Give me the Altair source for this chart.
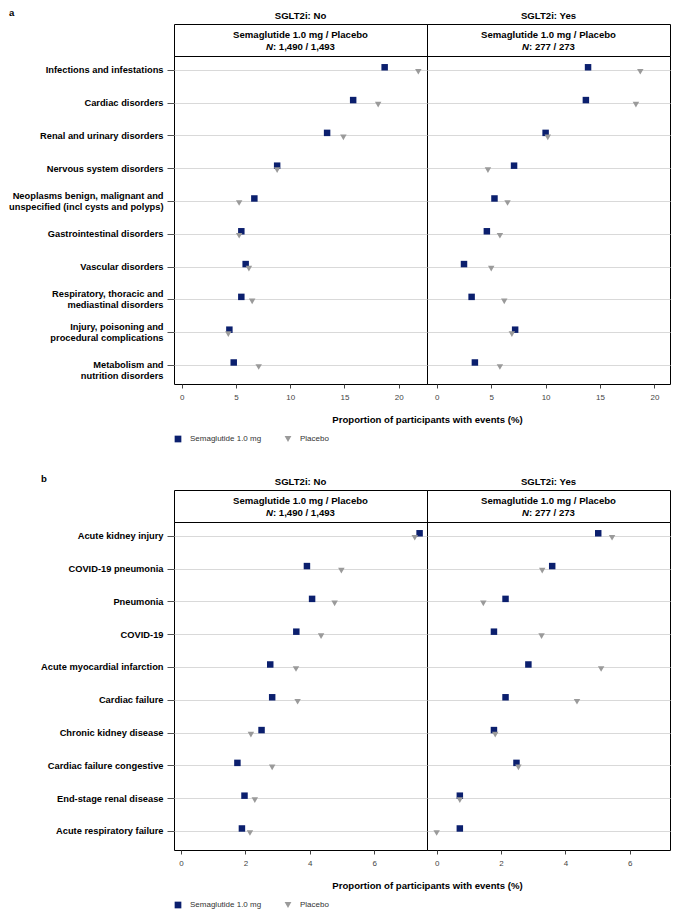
import altair as alt
import pandas as pd

FONT = "Liberation Sans, Arial, sans-serif"
NAVY = "#0b1f6e"
GREY = "#9a9a9a"

# ---------------- data ----------------
treatments = ["Semaglutide 1.0 mg", "Placebo"]
groups = ["SGLT2i: No", "SGLT2i: Yes"]
header_line1 = "Semaglutide 1.0 mg / Placebo"
n_italic = "N"
n_text = [": 1,490 / 1,493", ": 277 / 273"]
x_title = "Proportion of participants with events (%)"
section_letters = ["a", "b"]

soc_labels = [
    "Infections and infestations",
    "Cardiac disorders",
    "Renal and urinary disorders",
    "Nervous system disorders",
    "Neoplasms benign, malignant and|unspecified (incl cysts and polyps)",
    "Gastrointestinal disorders",
    "Vascular disorders",
    "Respiratory, thoracic and|mediastinal disorders",
    "Injury, poisoning and|procedural complications",
    "Metabolism and|nutrition disorders",
]
# labels whose first line sits on the tick (all other wrapped labels are centred)
top_aligned_labels = ["Metabolism and|nutrition disorders"]

soc_no_sema = [18.7, 15.8, 13.4, 8.8, 6.7, 5.5, 5.9, 5.5, 4.4, 4.8]
soc_no_plac = [21.8, 18.1, 14.9, 8.8, 5.3, 5.3, 6.2, 6.5, 4.3, 7.1]
soc_yes_sema = [13.9, 13.7, 10.0, 7.1, 5.3, 4.6, 2.5, 3.2, 7.2, 3.5]
soc_yes_plac = [18.7, 18.3, 10.2, 4.7, 6.5, 5.8, 5.0, 6.2, 6.9, 5.8]

pt_labels = [
    "Acute kidney injury",
    "COVID-19 pneumonia",
    "Pneumonia",
    "COVID-19",
    "Acute myocardial infarction",
    "Cardiac failure",
    "Chronic kidney disease",
    "Cardiac failure congestive",
    "End-stage renal disease",
    "Acute respiratory failure",
]
pt_no_sema = [7.41, 3.91, 4.07, 3.58, 2.77, 2.83, 2.50, 1.75, 1.97, 1.89]
pt_no_plac = [7.26, 4.98, 4.77, 4.35, 3.57, 3.62, 2.17, 2.83, 2.29, 2.14]
pt_yes_sema = [5.02, 3.59, 2.14, 1.78, 2.85, 2.14, 1.78, 2.48, 0.72, 0.72]
pt_yes_plac = [5.45, 3.28, 1.45, 3.26, 5.11, 4.36, 1.82, 2.54, 0.72, 0.00]

top_ticks = [0, 5, 10, 15, 20]
bot_ticks = [0, 2, 4, 6]

# ---------------- layout ----------------
W = [253, 243]
HDR_H = 32
PLOT_H = 328
FS = 9.6
LINE_H = 11
top_domains = [[-0.7, 22.6], [-0.9, 21.43]]
bot_domains = [[-0.22, 7.64], [-0.3, 7.25]]

BW = {":": .333, " ": .278, ",": .278, "/": .278, "N": .722}


def bold_width(s, size):
    return sum(BW.get(c, .556) for c in s) * size


def header(i):
    w = W[i]
    df = pd.DataFrame({"line1": [header_line1], "n": [n_text[i]], "ni": [n_italic]})
    base = alt.Chart(df)
    total = bold_width(n_italic + n_text[i], FS)
    sx = w / 2 - total / 2 + bold_width(n_italic, FS)
    common = dict(font=FONT, fontSize=FS, fontWeight="bold", color="black", baseline="middle")
    t1 = base.mark_text(align="center", **common).encode(
        x=alt.value(w / 2), y=alt.value(10.5), text="line1:N")
    t2 = base.mark_text(align="right", fontStyle="italic", **common).encode(
        x=alt.value(sx), y=alt.value(22.5), text="ni:N")
    t3 = base.mark_text(align="left", **common).encode(
        x=alt.value(sx), y=alt.value(22.5), text="n:N")
    return alt.layer(t1, t2, t3).properties(
        width=w, height=HDR_H,
        title=alt.TitleParams(groups[i], font=FONT, fontSize=FS, fontWeight="bold",
                              color="black", offset=3))


def plot(i, labels, sema, plac, domain, ticks):
    w = W[i]
    n = len(labels)
    df = pd.DataFrame({
        "label": labels * 2,
        "treatment": [treatments[0]] * n + [treatments[1]] * n,
        "value": sema + plac,
    })
    excl = " && ".join("datum.value != '%s'" % s for s in top_aligned_labels)
    centre_test = "indexof(datum.value, '|') >= 0" + (" && " + excl if excl else "")
    if i == 0:
        yaxis = alt.Axis(title=None, labelExpr="split(datum.label, '|')",
                         labelFont=FONT, labelFontSize=9.3, labelFontWeight="bold",
                         labelColor="black", labelLineHeight=LINE_H, labelPadding=4,
                         labelLimit=400, labelOverlap=False,
                         labelOffset={"condition": {"test": centre_test,
                                                    "value": -LINE_H / 2},
                                      "value": 0},
                         tickSize=7, tickColor="#555555", tickWidth=1,
                         domain=False, grid=True, gridColor="#d9d9d9", gridWidth=1)
        xaxis = alt.Axis(values=ticks, title=x_title, labelFont=FONT, labelFontSize=8,
                         labelColor="#444444", labelPadding=5, tickSize=4,
                         tickColor="#444444", domain=False, grid=False,
                         titleFont=FONT, titleFontSize=FS, titleFontWeight="bold",
                         titleColor="black", titleX=w, titleY=35,
                         titleBaseline="middle", titleAlign="center")
    else:
        yaxis = alt.Axis(title=None, labels=False, ticks=False, domain=False,
                         grid=True, gridColor="#d9d9d9", gridWidth=1)
        xaxis = alt.Axis(values=ticks, title=None, labelFont=FONT, labelFontSize=8,
                         labelColor="#444444", labelPadding=5, tickSize=4,
                         tickColor="#444444", domain=False, grid=False)
    legend = alt.Legend(title=None, orient="none", legendX=0,
                        legendY=HDR_H + PLOT_H + 51, direction="horizontal",
                        symbolSize=45, labelFont=FONT, labelFontSize=8,
                        labelColor="#333333", columnPadding=22, symbolStrokeWidth=0,
                        padding=0, labelOffset=8, symbolOpacity=1)
    base = alt.Chart(df).encode(
        x=alt.X("value:Q", scale=alt.Scale(domain=domain, nice=False, zero=False),
                axis=xaxis),
        y=alt.Y("label:N", sort=labels,
                scale=alt.Scale(type="point", domain=labels, padding=0.5, align=0.42),
                axis=yaxis),
        color=alt.Color("treatment:N", scale=alt.Scale(domain=treatments, range=[NAVY, GREY]),
                        legend=legend),
        shape=alt.Shape("treatment:N",
                        scale=alt.Scale(domain=treatments, range=["square", "triangle-down"]),
                        legend=legend),
    )
    sq = base.transform_filter(alt.datum.treatment == treatments[0]).mark_point(
        filled=True, opacity=1, size=42, yOffset=-2.5)
    tr = base.transform_filter(alt.datum.treatment == treatments[1]).mark_point(
        filled=True, opacity=1, size=42, yOffset=2)
    return alt.layer(sq, tr).properties(width=w, height=PLOT_H)


def section(k, labels, series, domains, ticks):
    hdrs = [header(i) for i in range(2)]
    plots = [plot(i, labels, series[i][0], series[i][1], domains[i], ticks) for i in range(2)]
    return alt.concat(hdrs[0], hdrs[1], plots[0], plots[1], columns=2, spacing=0,
                      bounds="flush",
                      title=alt.TitleParams(section_letters[k], anchor="start", font=FONT,
                                            fontSize=9.6, fontWeight="bold", color="black",
                                            offset=-7, dx=1))


secA = section(0, soc_labels, [(soc_no_sema, soc_no_plac), (soc_yes_sema, soc_yes_plac)],
               top_domains, top_ticks)
secB = section(1, pt_labels, [(pt_no_sema, pt_no_plac), (pt_yes_sema, pt_yes_plac)],
               bot_domains, bot_ticks)

chart = alt.vconcat(secA, secB, spacing=31).resolve_scale(
    color="independent", shape="independent"
).properties(padding=0, background="white").configure_view(
    stroke="black", strokeWidth=1
)

chart.save("out.html", embed_options={"renderer": "svg", "actions": False})
